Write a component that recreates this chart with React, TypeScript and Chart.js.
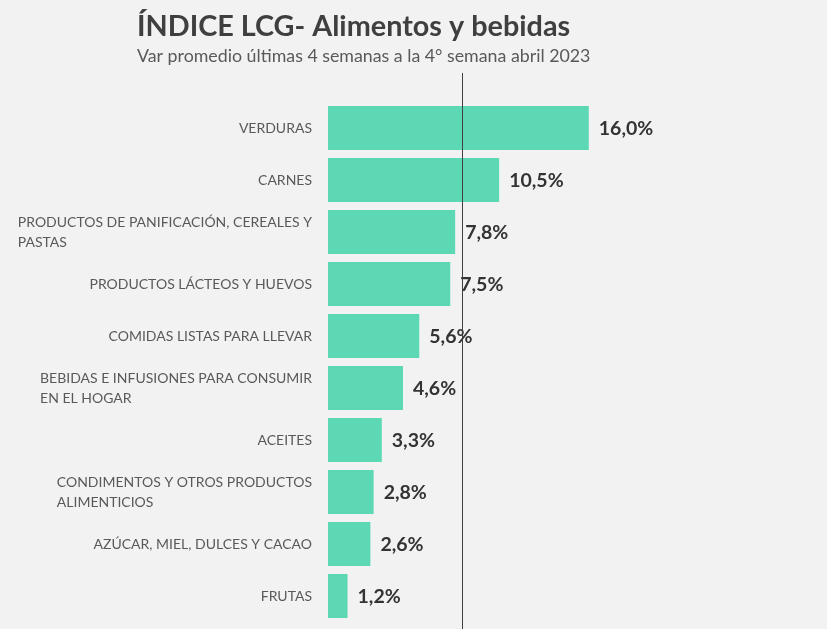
import { useEffect, useRef } from 'react';
import Chart from 'chart.js/auto';

const categories: string[][] = [
  ['VERDURAS'],
  ['CARNES'],
  ['PRODUCTOS DE PANIFICACIÓN, CEREALES Y', 'PASTAS'],
  ['PRODUCTOS LÁCTEOS Y HUEVOS'],
  ['COMIDAS LISTAS PARA LLEVAR'],
  ['BEBIDAS E INFUSIONES PARA CONSUMIR', 'EN EL HOGAR'],
  ['ACEITES'],
  ['CONDIMENTOS Y OTROS PRODUCTOS', 'ALIMENTICIOS'],
  ['AZÚCAR, MIEL, DULCES Y CACAO'],
  ['FRUTAS'],
];
const variation = [16.0, 10.5, 7.8, 7.5, 5.6, 4.6, 3.3, 2.8, 2.6, 1.2];
const referenceLine = 8.25;

const title = 'ÍNDICE LCG- Alimentos y bebidas';
const subtitle = 'Var promedio últimas 4 semanas a la 4° semana abril 2023';

const FONT = 'Lato, "Open Sans", sans-serif';
const fmt = (v: number) => v.toFixed(1).replace('.', ',') + '%';

export default function App() {
  const chartRef = useRef<HTMLCanvasElement>(null);
  const chartInstance = useRef<Chart | null>(null);

  useEffect(() => {
    if (!chartRef.current) return;
    if (chartInstance.current) chartInstance.current.destroy();
    const ctx = chartRef.current.getContext('2d');
    if (!ctx) return;

    // draws titles, category labels, value labels and the reference line
    const decorations = {
      id: 'decorations',
      afterDatasetsDraw(chart: any) {
        const c = chart.ctx;
        const { chartArea, scales } = chart;
        c.save();

        // titles
        c.fillStyle = '#3f3f3f';
        c.textAlign = 'left';
        c.textBaseline = 'alphabetic';
        c.font = `bold 28.8px ${FONT}`;
        c.fillText(title, 137, 36);
        c.fillStyle = '#595959';
        c.font = `17.8px ${FONT}`;
        c.fillText(subtitle, 137, 62);

        // category labels: block right-aligned, lines left-aligned
        c.font = `14px ${FONT}`;
        c.fillStyle = '#595959';
        c.textBaseline = 'middle';
        const right = chartArea.left - 16;
        categories.forEach((lines, i) => {
          const y = scales.y.getPixelForValue(i);
          const w = Math.max(...lines.map((l) => c.measureText(l).width));
          lines.forEach((l, j) => {
            c.fillText(l, right - w, y + (j - (lines.length - 1) / 2) * 20);
          });
        });

        // value labels
        c.font = `bold 19.5px ${FONT}`;
        c.fillStyle = '#333333';
        const meta = chart.getDatasetMeta(0);
        meta.data.forEach((bar: any, i: number) => {
          c.fillText(fmt(variation[i]), bar.x + 10, bar.y + 1);
        });

        // reference line
        const x = Math.round(scales.x.getPixelForValue(referenceLine)) + 0.5;
        c.strokeStyle = '#404040';
        c.lineWidth = 1;
        c.beginPath();
        c.moveTo(x, 73);
        c.lineTo(x, chart.height);
        c.stroke();
        c.restore();
      },
    };

    chartInstance.current = new Chart(ctx, {
      type: 'bar',
      data: {
        labels: categories.map((l) => l.join(' ')),
        datasets: [
          {
            data: variation,
            backgroundColor: '#5cd9b4',
            borderWidth: 0,
            barPercentage: 0.846,
            categoryPercentage: 1,
          },
        ],
      },
      options: {
        indexAxis: 'y',
        responsive: true,
        maintainAspectRatio: false,
        animation: false,
        layout: { padding: { left: 328, right: 10, top: 102, bottom: 7 } },
        plugins: {
          legend: { display: false },
          tooltip: { enabled: false },
        },
        scales: {
          x: { display: false, min: 0, max: 30 },
          y: { display: false },
        },
      },
      plugins: [decorations],
    });

    return () => {
      if (chartInstance.current) {
        chartInstance.current.destroy();
        chartInstance.current = null;
      }
    };
  }, []);

  return (
    <div style={{ position: 'fixed', left: 0, top: 0, width: 827, height: 629, background: '#f2f2f2' }}>
      <canvas ref={chartRef} aria-label="Índice LCG alimentos y bebidas" role="img"></canvas>
    </div>
  );
}
